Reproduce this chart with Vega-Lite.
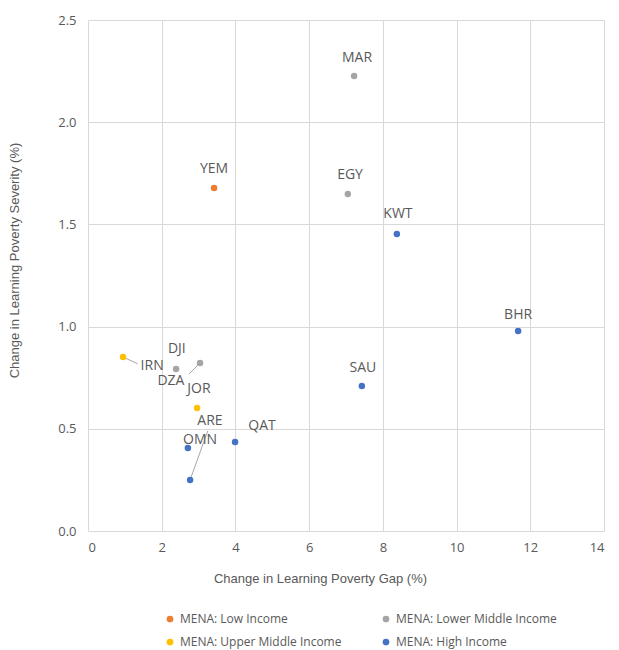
{
  "$schema": "https://vega.github.io/schema/vega-lite/v6.json",
  "width": 516,
  "height": 511,
  "autosize": {"type": "none"},
  "padding": {"left": 88, "top": 20, "right": 15, "bottom": 119},
  "background": "white",
  "config": {
    "view": {"stroke": null},
    "font": "Open Sans",
    "axis": {"gridColor": "#D9D9D9", "domain": false, "ticks": false, "labelColor": "#595959", "titleColor": "#595959", "labelFontSize": 13, "titleFontSize": 13, "titleFontWeight": "normal", "labelFont": "Open Sans", "titleFont": "Liberation Sans"}
  },
  "datasets": {
    "pts": [
      {"country": "MAR", "gap": 7.22, "severity": 2.226, "group": "MENA: Lower Middle Income", "lx": 7.30, "ly": 2.314},
      {"country": "YEM", "gap": 3.42, "severity": 1.678, "group": "MENA: Low Income", "lx": 3.42, "ly": 1.771},
      {"country": "EGY", "gap": 7.05, "severity": 1.649, "group": "MENA: Lower Middle Income", "lx": 7.11, "ly": 1.742},
      {"country": "KWT", "gap": 8.38, "severity": 1.453, "group": "MENA: High Income", "lx": 8.41, "ly": 1.551},
      {"country": "BHR", "gap": 11.67, "severity": 0.978, "group": "MENA: High Income", "lx": 11.67, "ly": 1.057},
      {"country": "SAU", "gap": 7.43, "severity": 0.709, "group": "MENA: High Income", "lx": 7.46, "ly": 0.797},
      {"country": "IRN", "gap": 0.95, "severity": 0.851, "group": "MENA: Upper Middle Income", "lx": 1.74, "ly": 0.807},
      {"country": "DJI", "gap": 2.39, "severity": 0.793, "group": "MENA: Lower Middle Income", "lx": 2.41, "ly": 0.890},
      {"country": "DZA", "gap": 3.04, "severity": 0.822, "group": "MENA: Lower Middle Income", "lx": 2.25, "ly": 0.734},
      {"country": "JOR", "gap": 2.96, "severity": 0.602, "group": "MENA: Upper Middle Income", "lx": 3.01, "ly": 0.695},
      {"country": "QAT", "gap": 3.99, "severity": 0.435, "group": "MENA: High Income", "lx": 4.72, "ly": 0.514},
      {"country": "OMN", "gap": 2.71, "severity": 0.406, "group": "MENA: High Income", "lx": 3.04, "ly": 0.446},
      {"country": "ARE", "gap": 2.77, "severity": 0.250, "group": "MENA: High Income", "lx": 3.31, "ly": 0.537}
    ],
    "leaders": [
      {"country": "IRN", "x": 0.95, "y": 0.851, "x2": 1.35, "y2": 0.818},
      {"country": "DZA", "x": 3.04, "y": 0.822, "x2": 2.74, "y2": 0.768},
      {"country": "ARE", "x": 2.77, "y": 0.250, "x2": 3.25, "y2": 0.49}
    ]
  },
  "layer": [
    {
      "data": {"name": "leaders"},
      "mark": {"type": "rule", "color": "#A6A6A6", "strokeWidth": 1},
      "encoding": {
        "x": {"field": "x", "type": "quantitative", "scale": {"domain": [0, 14], "nice": false}},
        "y": {"field": "y", "type": "quantitative", "scale": {"domain": [0, 2.5], "nice": false}},
        "x2": {"field": "x2"},
        "y2": {"field": "y2"}
      }
    },
    {
      "data": {"name": "pts"},
      "mark": {"type": "point", "filled": true, "opacity": 1, "size": 42, "shape": "circle"},
      "encoding": {
        "x": {"field": "gap", "type": "quantitative", "scale": {"domain": [0, 14], "nice": false}, "axis": {"values": [0, 2, 4, 6, 8, 10, 12, 14], "title": "Change in Learning Poverty Gap (%)", "labelPadding": 10, "titlePadding": 18, "titleX": 232, "format": "d"}},
        "y": {"field": "severity", "type": "quantitative", "scale": {"domain": [0, 2.5], "nice": false}, "axis": {"values": [0, 0.5, 1, 1.5, 2, 2.5], "format": ".1f", "title": "Change in Learning Poverty Severity (%)", "labelPadding": 12, "titlePadding": 36, "titleY": 240}},
        "color": {
          "field": "group", "type": "nominal",
          "scale": {"domain": ["MENA: Low Income", "MENA: Lower Middle Income", "MENA: Upper Middle Income", "MENA: High Income"], "range": ["#ED7D31", "#A5A5A5", "#FFC000", "#4472C4"]},
          "legend": {"title": null, "orient": "none", "legendX": 76, "legendY": 593, "columns": 2, "direction": "horizontal", "symbolType": "circle", "symbolSize": 45, "labelFontSize": 12, "labelColor": "#595959", "labelFont": "Open Sans", "columnPadding": 38, "rowPadding": 11, "labelLimit": 300}
        }
      }
    },
    {
      "data": {"name": "pts"},
      "mark": {"type": "text", "fontSize": 14, "color": "#595959", "font": "Open Sans"},
      "encoding": {
        "x": {"field": "lx", "type": "quantitative"},
        "y": {"field": "ly", "type": "quantitative"},
        "text": {"field": "country"}
      }
    }
  ]
}
